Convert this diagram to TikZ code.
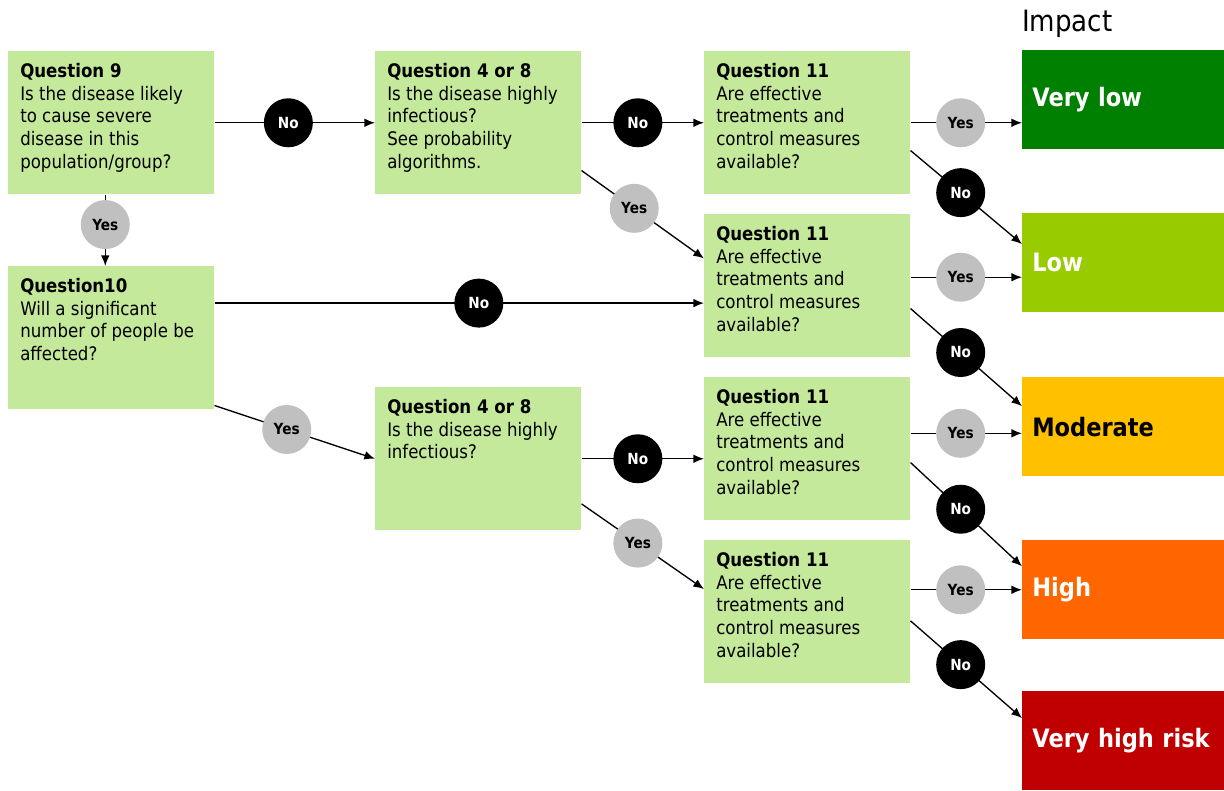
\documentclass[tikz,border=0pt]{standalone}
\usepackage{fontspec}
\setmainfont{DejaVu Sans}[FakeStretch=0.89]
\usetikzlibrary{arrows.meta}
\definecolor{qgreen}{RGB}{197,233,155}
\definecolor{ygray}{RGB}{192,192,192}
\definecolor{vlowc}{RGB}{0,128,0}
\definecolor{lowc}{RGB}{153,204,0}
\definecolor{modc}{RGB}{255,192,0}
\definecolor{highc}{RGB}{255,102,0}
\definecolor{vhighc}{RGB}{192,0,0}
\newcommand{\qtext}[2]{\parbox[t][89.25pt][t]{136.5pt}{\textbf{#1}\\#2}}
\newcommand{\qeleven}{Are effective\\treatments and\\control measures\\available?}

\begin{document}
\begin{tikzpicture}[x=0.75pt,y=-0.75pt,
    qbox/.style={fill=qgreen, anchor=north west, inner xsep=9pt, inner ysep=9pt, font=\fontsize{14}{17}\selectfont},
    impbox/.style={anchor=north west, minimum width=151.5pt, minimum height=74.25pt, inner xsep=0pt, text width=151.5pt, align=left, text=white, font=\bfseries\fontsize{19}{23}\selectfont, execute at begin node=\hspace*{7.5pt}},
    yesdot/.style={circle, fill=ygray, minimum size=36.75pt, inner sep=0pt, font=\bfseries\fontsize{11.5}{13}\selectfont},
    nodot/.style={yesdot, fill=black, text=white},
    arr/.style={-{Latex[length=8pt,width=6.5pt]}, line width=1pt}]
  \useasboundingbox (0,0) rectangle (1224,790);

  % question boxes
  \node[qbox] (q9) at (8,51) {\qtext{Question 9}{Is the disease likely\\to cause severe\\disease in this\\population/group?}};
  \node[qbox] (q48a) at (375,51) {\qtext{Question 4 or 8}{Is the disease highly\\infectious?\\See probability\\algorithms.}};
  \node[qbox] (q10) at (8,266) {\qtext{Question10}{Will a significant\\number of people be\\affected?}};
  \node[qbox] (q48b) at (375,387) {\qtext{Question 4 or 8}{Is the disease highly\\infectious?}};
  \node[qbox] (q11a) at (704,51) {\qtext{Question 11}{\qeleven}};
  \node[qbox] (q11b) at (704,214) {\qtext{Question 11}{\qeleven}};
  \node[qbox] (q11c) at (704,377) {\qtext{Question 11}{\qeleven}};
  \node[qbox] (q11d) at (704,540) {\qtext{Question 11}{\qeleven}};

  % impact column
  \node[anchor=west, inner sep=0pt, font=\fontsize{22}{26}\selectfont] (imp) at (1022,24) {Impact};
  \node[impbox, fill=vlowc] (vlow) at (1022,50) {Very low};
  \node[impbox, fill=lowc] (low) at (1022,213) {Low};
  \node[impbox, fill=modc, text=black] (mod) at (1022,377) {Moderate};
  \node[impbox, fill=highc] (high) at (1022,540) {High};
  \node[impbox, fill=vhighc] (vhigh) at (1022,691) {Very high risk};

  % first questions
  \draw[arr] (q9.east) -- node[nodot, pos=0.46] (n1) {No} (q48a.west);
  \draw[arr] ([xshift=-4.5pt]q9.south) -- node[yesdot, pos=0.42] (y1) {Yes} ([xshift=-4.5pt]q9.south |- q10.north);
  \draw[arr] (q48a.east) -- node[nodot, pos=0.46] (n2) {No} (q11a.west);
  \draw[arr] ([yshift=18pt]q48a.south east) -- node[yesdot, pos=0.43] (y2) {Yes} ([yshift=20.5pt]q11b.west);
  \draw[arr] ([yshift=26pt]q10.east) -- node[nodot, pos=0.54] (n3) {No} ([yshift=26pt]q10.east -| q11b.west);
  \draw[arr] ([yshift=3pt]q10.south east) -- node[yesdot, pos=0.45] (y3) {Yes} (q48b.west);
  \draw[arr] (q48b.east) -- node[nodot, pos=0.46] (n4) {No} (q48b.east -| q11c.west);
  \draw[arr] ([yshift=20pt]q48b.south east) -- node[yesdot, pos=0.46] (y4) {Yes} ([yshift=17pt]q11d.west);

  % question 11 to impact
  \draw[arr] (q11a.east) -- node[yesdot, pos=0.45] (ya) {Yes} (q11a.east -| vlow.west);
  \draw[arr] ([yshift=33pt]q11a.south east) -- node[nodot, pos=0.45] (na) {No} ([yshift=14pt]low.west);
  \draw[arr] ([yshift=6.4pt]q11b.east) -- node[yesdot, pos=0.45] (yb) {Yes} ([yshift=6.4pt]q11b.east -| low.west);
  \draw[arr] ([yshift=36.75pt]q11b.south east) -- node[nodot, pos=0.45] (nb) {No} ([yshift=15.4pt]mod.west);
  \draw[arr] ([yshift=11.6pt]q11c.east) -- node[yesdot, pos=0.45] (yc) {Yes} ([yshift=11.6pt]q11c.east -| mod.west);
  \draw[arr] ([yshift=43.5pt]q11c.south east) -- node[nodot, pos=0.45] (nc) {No} ([yshift=17.6pt]high.west);
  \draw[arr] (high.west -| q11d.east) -- node[yesdot, pos=0.45] (yd) {Yes} (high.west);
  \draw[arr] ([yshift=47pt]q11d.south east) -- node[nodot, pos=0.45] (nd) {No} ([yshift=17pt]vhigh.west);
\end{tikzpicture}
\end{document}
